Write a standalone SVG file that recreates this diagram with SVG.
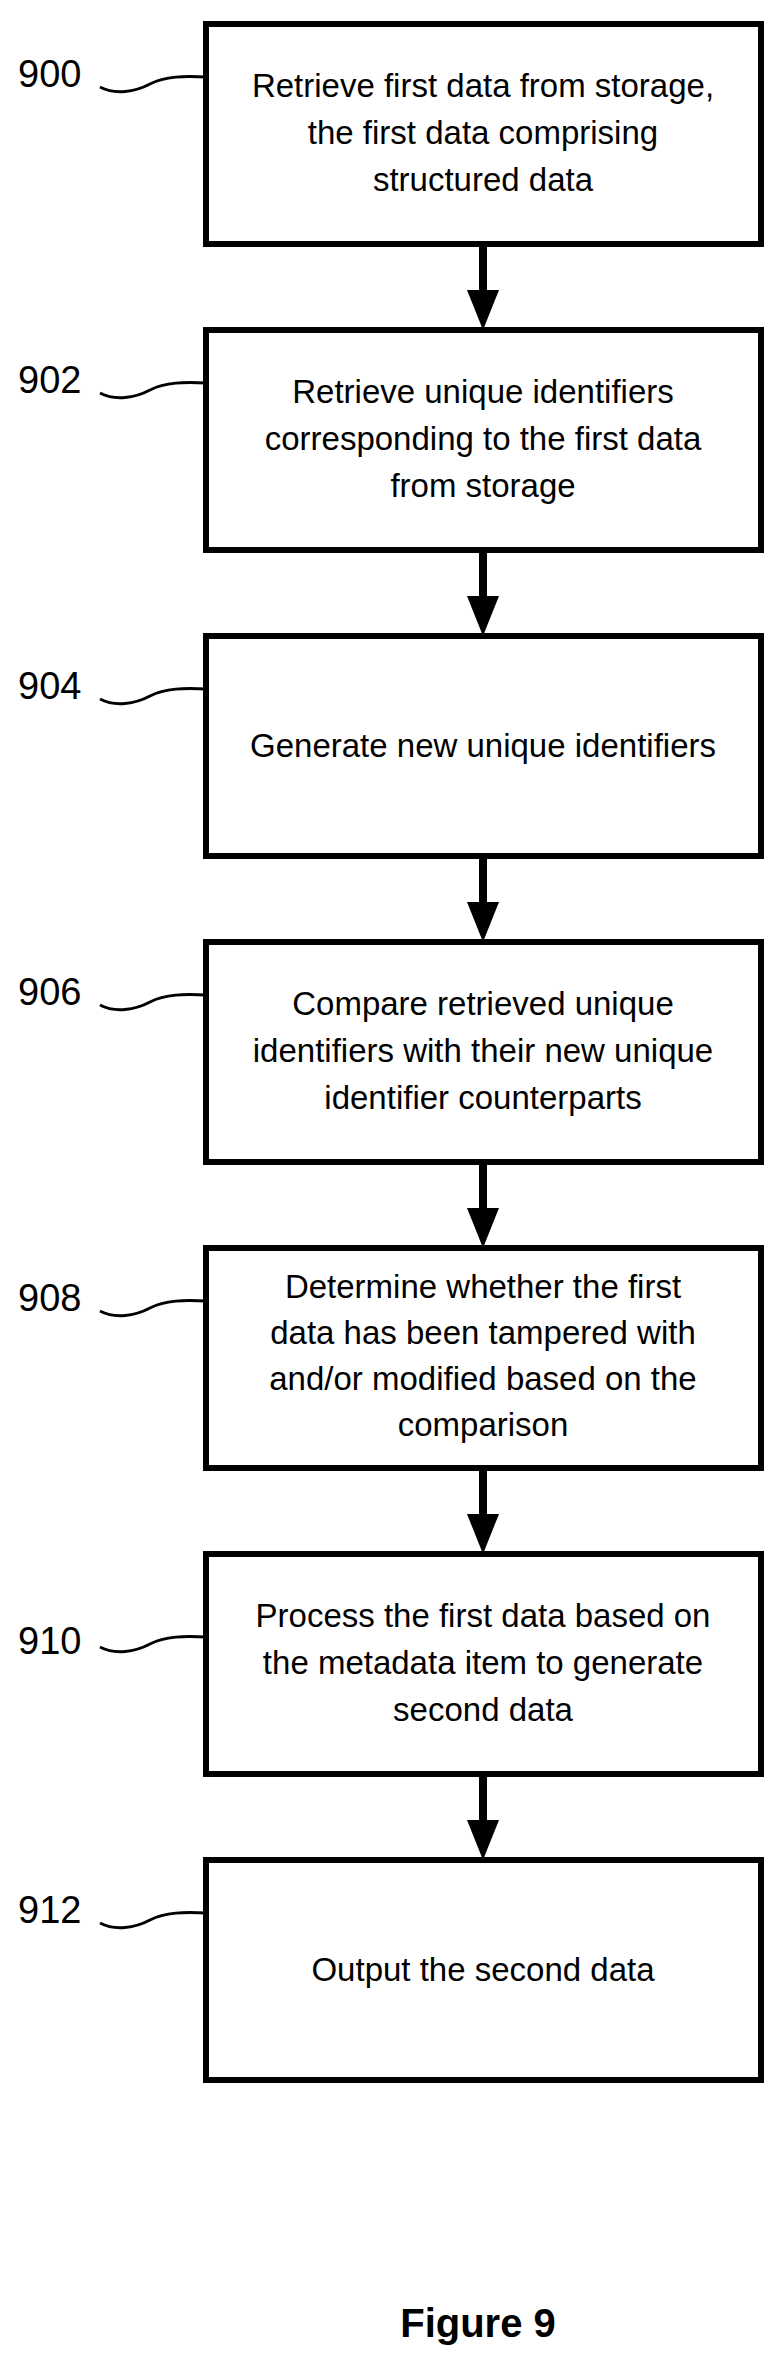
<svg xmlns="http://www.w3.org/2000/svg" width="784" height="2371" viewBox="0 0 784 2371">
<style>
.b{fill:#fff;stroke:#000;stroke-width:6}
.t{font-family:"Liberation Sans",Arial,sans-serif;font-size:33px;text-anchor:middle;fill:#000}
.n{font-family:"Liberation Sans",Arial,sans-serif;font-size:38px;fill:#000}
.s{fill:none;stroke:#000;stroke-width:3}
.c{stroke:#000;stroke-width:8}
</style>
<rect width="784" height="2371" fill="#fff"/>
<g id="connectors">
<line class="c" x1="483" y1="244" x2="483" y2="295"/><path d="M467,290H499L483,330Z"/>
<line class="c" x1="483" y1="550" x2="483" y2="601"/><path d="M467,596H499L483,636Z"/>
<line class="c" x1="483" y1="856" x2="483" y2="907"/><path d="M467,902H499L483,942Z"/>
<line class="c" x1="483" y1="1162" x2="483" y2="1213"/><path d="M467,1208H499L483,1248Z"/>
<line class="c" x1="483" y1="1468" x2="483" y2="1519"/><path d="M467,1514H499L483,1554Z"/>
<line class="c" x1="483" y1="1774" x2="483" y2="1825"/><path d="M467,1820H499L483,1860Z"/>
</g>
<g id="n900"><rect class="b" x="206" y="24" width="555" height="220"/>
<text class="n" x="18" y="87">900</text><path class="s" d="M100,87C115,95 135,92 150,84S185,76 206,77"/>
<text class="t" x="483" y="97">Retrieve first data from storage,</text><text class="t" x="483" y="144">the first data comprising</text><text class="t" x="483" y="191">structured data</text></g>
<g id="n902"><rect class="b" x="206" y="330" width="555" height="220"/>
<text class="n" x="18" y="393">902</text><path class="s" d="M100,393C115,401 135,398 150,390S185,382 206,383"/>
<text class="t" x="483" y="403">Retrieve unique identifiers</text><text class="t" x="483" y="450">corresponding to the first data</text><text class="t" x="483" y="497">from storage</text></g>
<g id="n904"><rect class="b" x="206" y="636" width="555" height="220"/>
<text class="n" x="18" y="699">904</text><path class="s" d="M100,699C115,707 135,704 150,696S185,688 206,689"/>
<text class="t" x="483" y="757">Generate new unique identifiers</text></g>
<g id="n906"><rect class="b" x="206" y="942" width="555" height="220"/>
<text class="n" x="18" y="1005">906</text><path class="s" d="M100,1005C115,1013 135,1010 150,1002S185,994 206,995"/>
<text class="t" x="483" y="1015">Compare retrieved unique</text><text class="t" x="483" y="1062">identifiers with their new unique</text><text class="t" x="483" y="1109">identifier counterparts</text></g>
<g id="n908"><rect class="b" x="206" y="1248" width="555" height="220"/>
<text class="n" x="18" y="1311">908</text><path class="s" d="M100,1311C115,1319 135,1316 150,1308S185,1300 206,1301"/>
<text class="t" x="483" y="1298">Determine whether the first</text><text class="t" x="483" y="1344">data has been tampered with</text><text class="t" x="483" y="1390">and/or modified based on the</text><text class="t" x="483" y="1436">comparison</text></g>
<g id="n910"><rect class="b" x="206" y="1554" width="555" height="220"/>
<text class="n" x="18" y="1654">910</text><path class="s" d="M100,1647C115,1655 135,1652 150,1644S185,1636 206,1637"/>
<text class="t" x="483" y="1627">Process the first data based on</text><text class="t" x="483" y="1674">the metadata item to generate</text><text class="t" x="483" y="1721">second data</text></g>
<g id="n912"><rect class="b" x="206" y="1860" width="555" height="220"/>
<text class="n" x="18" y="1923">912</text><path class="s" d="M100,1923C115,1931 135,1928 150,1920S185,1912 206,1913"/>
<text class="t" x="483" y="1981">Output the second data</text></g>
<text x="478" y="2337" style="font-family:'Liberation Sans',Arial,sans-serif;font-size:40px;font-weight:bold;text-anchor:middle">Figure 9</text>
</svg>
